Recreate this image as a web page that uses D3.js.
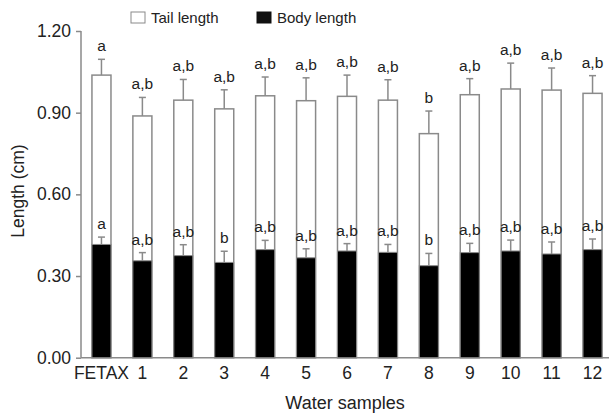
<!DOCTYPE html>
<html>
<head>
<meta charset="utf-8">
<script src="https://d3js.org/d3.v7.min.js"></script>
<style>
  body { margin: 0; background: #fff; }
  text { font-family: "Liberation Sans", Arial, sans-serif; fill: #222; }
</style>
</head>
<body>
<div id="chart"></div>
<script>
var samples = ["FETAX", "1", "2", "3", "4", "5", "6", "7", "8", "9", "10", "11", "12"];
var tailTotal = [1.038, 0.888, 0.946, 0.914, 0.962, 0.944, 0.960, 0.946, 0.823, 0.966, 0.987, 0.983, 0.971];
var tailErrTop = [1.096, 0.956, 1.022, 0.984, 1.031, 1.028, 1.038, 1.021, 0.906, 1.025, 1.082, 1.064, 1.036];
var tailLabels = ["a", "a,b", "a,b", "a,b", "a,b", "a,b", "a,b", "a,b", "b", "a,b", "a,b", "a,b", "a,b"];
var body = [0.416, 0.356, 0.375, 0.350, 0.397, 0.367, 0.392, 0.387, 0.338, 0.386, 0.392, 0.381, 0.397];
var bodyErrTop = [0.443, 0.386, 0.415, 0.391, 0.431, 0.400, 0.419, 0.416, 0.383, 0.420, 0.432, 0.425, 0.436];
var bodyLabels = ["a", "a,b", "a,b", "b", "a,b", "a,b", "a,b", "a,b", "b", "a,b", "a,b", "a,b", "a,b"];
var yTicks = [0, 0.3, 0.6, 0.9, 1.2];

var W = 609, H = 416;
var plotL = 81, plotR = 613, plotT = 31, plotB = 357.7;

var svg = d3.select("#chart").append("svg")
  .attr("width", W).attr("height", H);

var x = d3.scaleBand()
  .domain(samples)
  .range([plotL, plotR])
  .paddingInner(0.535)
  .paddingOuter(0.2675);

var y = d3.scaleLinear().domain([0, 1.2]).range([plotB, plotT]);

var grey = "#8a8a8a";

// y axis
var yAxis = svg.append("g")
  .attr("transform", "translate(" + plotL + ",0)")
  .call(d3.axisLeft(y).tickValues(yTicks).tickFormat(d3.format(".2f")).tickSize(5).tickPadding(5));
yAxis.select(".domain").attr("stroke", grey).attr("stroke-width", 1.5).attr("d", "M0," + plotT + "V" + plotB);
yAxis.selectAll(".tick line").attr("stroke", grey).attr("stroke-width", 1.5);
yAxis.selectAll(".tick text").style("font-size", "17.5px").attr("fill", "#222");

// x axis
var xAxis = svg.append("g")
  .attr("transform", "translate(0," + plotB + ")")
  .call(d3.axisBottom(x).tickSize(0).tickPadding(9));
xAxis.select(".domain").attr("stroke", grey).attr("stroke-width", 1.5).attr("d", "M" + plotL + ",0H" + W);
xAxis.selectAll(".tick text").style("font-size", "17.5px").attr("fill", "#222");

var idx = d3.range(samples.length);

// tail (total) bars
svg.append("g").selectAll("rect").data(idx).join("rect")
  .attr("x", function(i) { return x(samples[i]); })
  .attr("y", function(i) { return y(tailTotal[i]); })
  .attr("width", x.bandwidth())
  .attr("height", function(i) { return y(0) - y(tailTotal[i]); })
  .attr("fill", "#fff").attr("stroke", grey).attr("stroke-width", 1.5);

// body bars
svg.append("g").selectAll("rect").data(idx).join("rect")
  .attr("x", function(i) { return x(samples[i]); })
  .attr("y", function(i) { return y(body[i]); })
  .attr("width", x.bandwidth())
  .attr("height", function(i) { return y(0) - y(body[i]); })
  .attr("fill", "#000").attr("stroke", grey).attr("stroke-width", 1);

function errBars(vals, tops, labels) {
  var g = svg.append("g");
  idx.forEach(function(i) {
    var cx = x(samples[i]) + x.bandwidth() / 2;
    g.append("line").attr("x1", cx).attr("x2", cx)
      .attr("y1", y(vals[i])).attr("y2", y(tops[i]))
      .attr("stroke", grey).attr("stroke-width", 1.5);
    g.append("line").attr("x1", cx - 3.5).attr("x2", cx + 3.5)
      .attr("y1", y(tops[i])).attr("y2", y(tops[i]))
      .attr("stroke", grey).attr("stroke-width", 1.5);
    g.append("text").attr("x", cx).attr("y", y(tops[i]) - 8)
      .attr("text-anchor", "middle").style("font-size", "15.5px")
      .text(labels[i]);
  });
}
errBars(tailTotal, tailErrTop, tailLabels);
errBars(body, bodyErrTop, bodyLabels);

// axis titles
svg.append("text").attr("x", 345).attr("y", 409)
  .attr("text-anchor", "middle").style("font-size", "18px").text("Water samples");
svg.append("text")
  .attr("transform", "translate(24,191) rotate(-90)")
  .attr("text-anchor", "middle").style("font-size", "17.5px").text("Length (cm)");

// legend
var legend = [
  { name: "Tail length", fill: "#fff", x: 131 },
  { name: "Body length", fill: "#111", x: 257 }
];
var lg = svg.append("g").selectAll("g").data(legend).join("g");
lg.append("rect").attr("x", function(d) { return d.x; }).attr("y", 12)
  .attr("width", 14).attr("height", 11)
  .attr("fill", function(d) { return d.fill; })
  .attr("stroke", function(d) { return d.fill === "#fff" ? grey : "#111"; });
lg.append("text").attr("x", function(d) { return d.x + 20; }).attr("y", 23)
  .style("font-size", "15px").text(function(d) { return d.name; });
</script>
</body>
</html>
